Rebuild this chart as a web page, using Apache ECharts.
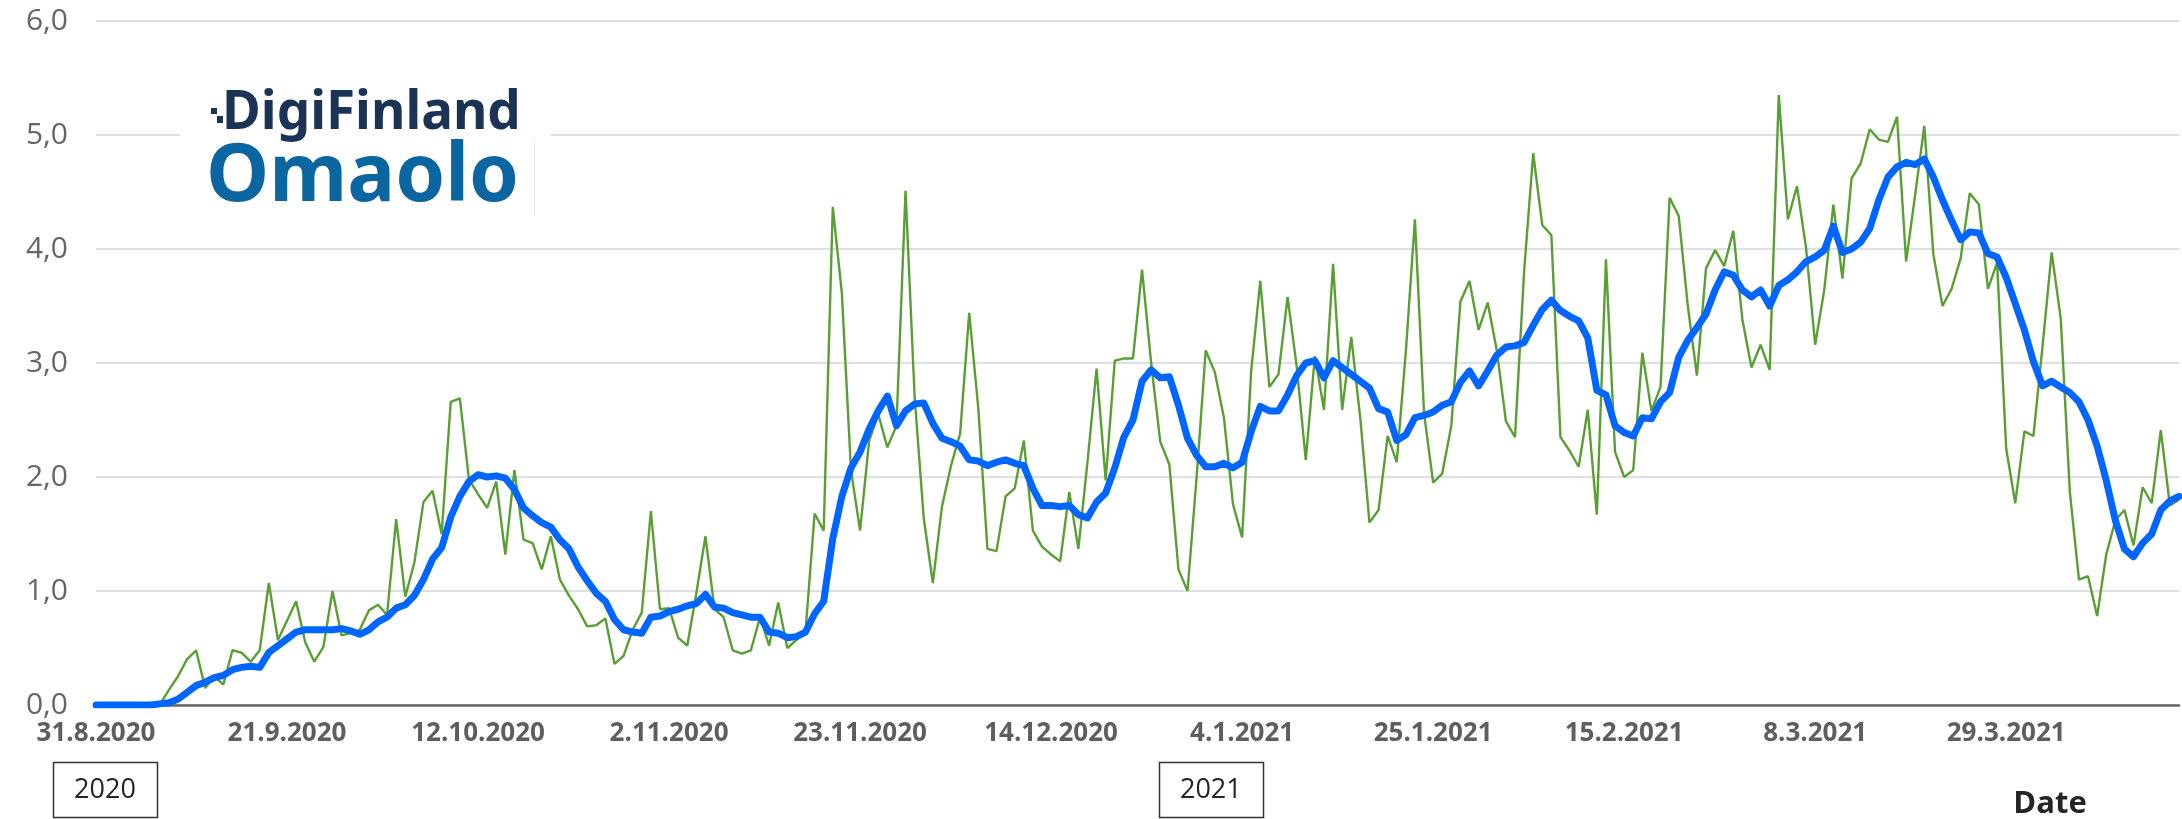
<!DOCTYPE html>
<html>
<head>
<meta charset="utf-8">
<script src="https://cdn.jsdelivr.net/npm/echarts@6/dist/echarts.min.js"></script>
<style>
  html, body { margin: 0; padding: 0; background: #ffffff; }
  #chart { width: 2182px; height: 819px; }
</style>
</head>
<body>
<div id="chart"></div>
<script>
// ---- data ----
const startDate = [2020, 8, 31];           // first day on the axis (y, m, d)
const dailyValues = [
  0, 0, 0, 0, 0, 0, 0, 0, 0.13, 0.25,
  0.40, 0.48, 0.15, 0.25, 0.18, 0.48, 0.46, 0.38, 0.48, 1.07,
  0.57, 0.74, 0.91, 0.55, 0.38, 0.51, 1.00, 0.61, 0.63, 0.66,
  0.83, 0.88, 0.79, 1.63, 0.95, 1.25, 1.78, 1.88, 1.50, 2.66,
  2.69, 1.98, 1.85, 1.73, 1.96, 1.32, 2.06, 1.45, 1.42, 1.19,
  1.48, 1.10, 0.96, 0.84, 0.69, 0.70, 0.76, 0.36, 0.43, 0.66,
  0.81, 1.70, 0.84, 0.85, 0.59, 0.52, 0.98, 1.48, 0.84, 0.77,
  0.48, 0.45, 0.48, 0.77, 0.52, 0.90, 0.50, 0.57, 0.64, 1.68,
  1.53, 4.37, 3.61, 2.06, 1.53, 2.32, 2.55, 2.26, 2.45, 4.51,
  2.70, 1.64, 1.07, 1.74, 2.10, 2.38, 3.44, 2.60, 1.37, 1.35,
  1.83, 1.90, 2.32, 1.53, 1.39, 1.32, 1.26, 1.87, 1.37, 2.13,
  2.95, 1.97, 3.02, 3.04, 3.04, 3.82, 3.00, 2.31, 2.11, 1.19,
  1.00, 2.00, 3.11, 2.92, 2.52, 1.76, 1.47, 2.93, 3.72, 2.79,
  2.90, 3.58, 2.97, 2.15, 3.06, 2.59, 3.87, 2.59, 3.23, 2.51,
  1.60, 1.71, 2.36, 2.13, 3.10, 4.26, 2.56, 1.95, 2.03, 2.45,
  3.54, 3.72, 3.29, 3.53, 3.11, 2.49, 2.35, 3.80, 4.84, 4.21,
  4.12, 2.35, 2.23, 2.09, 2.59, 1.67, 3.91, 2.22, 2.00, 2.06,
  3.09, 2.58, 2.79, 4.45, 4.29, 3.50, 2.89, 3.83, 3.99, 3.85,
  4.16, 3.38, 2.96, 3.16, 2.94, 5.35, 4.26, 4.55, 4.01, 3.16,
  3.64, 4.39, 3.74, 4.62, 4.75, 5.05, 4.96, 4.94, 5.16, 3.89,
  4.48, 5.08, 3.95, 3.50, 3.65, 3.92, 4.49, 4.39, 3.65, 3.88,
  2.25, 1.77, 2.40, 2.36, 3.15, 3.97, 3.39, 1.87, 1.10, 1.13,
  0.78, 1.32, 1.62, 1.71, 1.40, 1.91, 1.77, 2.41, 1.75, 1.80
];
const movingAverage = [
  0, 0, 0, 0, 0, 0, 0, 0.01, 0.02, 0.05,
  0.11, 0.17, 0.20, 0.24, 0.26, 0.31, 0.33, 0.34, 0.33, 0.46,
  0.52, 0.58, 0.64, 0.66, 0.66, 0.66, 0.66, 0.67, 0.65, 0.62,
  0.66, 0.73, 0.77, 0.85, 0.88, 0.96, 1.10, 1.28, 1.38, 1.65,
  1.83, 1.96, 2.02, 2.00, 2.01, 1.99, 1.89, 1.73, 1.66, 1.60,
  1.56, 1.45, 1.37, 1.21, 1.09, 0.98, 0.91, 0.75, 0.66, 0.64,
  0.63, 0.77, 0.78, 0.82, 0.84, 0.87, 0.89, 0.97, 0.86, 0.85,
  0.81, 0.79, 0.77, 0.77, 0.64, 0.63, 0.59, 0.60, 0.64, 0.80,
  0.91, 1.46, 1.83, 2.08, 2.22, 2.42, 2.58, 2.71, 2.45, 2.58,
  2.64, 2.65, 2.47, 2.34, 2.31, 2.27, 2.15, 2.14, 2.10, 2.13,
  2.15, 2.12, 2.10, 1.90, 1.75, 1.75, 1.74, 1.75, 1.67, 1.64,
  1.78, 1.86, 2.08, 2.35, 2.50, 2.84, 2.94, 2.87, 2.88, 2.63,
  2.34, 2.19, 2.09, 2.09, 2.12, 2.08, 2.13, 2.40, 2.62, 2.58,
  2.58, 2.72, 2.89, 3.00, 3.02, 2.87, 3.02, 2.96, 2.90, 2.84,
  2.78, 2.60, 2.57, 2.32, 2.37, 2.52, 2.54, 2.57, 2.63, 2.66,
  2.83, 2.93, 2.80, 2.93, 3.07, 3.14, 3.15, 3.18, 3.33, 3.47,
  3.55, 3.46, 3.41, 3.37, 3.22, 2.76, 2.72, 2.45, 2.39, 2.36,
  2.52, 2.51, 2.66, 2.74, 3.05, 3.20, 3.31, 3.43, 3.64, 3.80,
  3.77, 3.64, 3.58, 3.64, 3.50, 3.68, 3.73, 3.80, 3.89, 3.93,
  3.99, 4.20, 3.97, 4.00, 4.06, 4.18, 4.43, 4.63, 4.72, 4.76,
  4.74, 4.79, 4.63, 4.43, 4.25, 4.08, 4.15, 4.14, 3.96, 3.93,
  3.75, 3.52, 3.29, 3.01, 2.80, 2.84, 2.79, 2.74, 2.66, 2.50,
  2.27, 1.97, 1.62, 1.37, 1.30, 1.42, 1.50, 1.71, 1.79, 1.83
];
const yTickLabels = ['0,0', '1,0', '2,0', '3,0', '4,0', '5,0', '6,0'];
const yearLabels = ['2020', '2021'];
const brandTop = 'DigiFinland';
const brandBottom = 'Omaolo';
const axisTitle = 'Date';

// daily date categories (d.m.yyyy)
const categories = [];
for (let i = 0; i < dailyValues.length; i++) {
  const d = new Date(startDate[0], startDate[1] - 1, startDate[2] + i);
  categories.push(d.getDate() + '.' + (d.getMonth() + 1) + '.' + d.getFullYear());
}

// ---- chart ----
const chart = echarts.init(document.getElementById('chart'), null, { renderer: 'canvas' });
const option = {
  animation: false,
  backgroundColor: '#ffffff',
  grid: { left: 96, right: 3, top: 21, bottom: 114, containLabel: false },
  xAxis: {
    type: 'category',
    data: categories,
    boundaryGap: false,
    axisLine: { show: true, lineStyle: { color: '#666666', width: 2.5 } },
    axisTick: { show: false },
    axisLabel: {
      interval: (index) => index % 21 === 0,
      hideOverlap: false,
      color: '#605e5c', fontFamily: 'Open Sans', fontWeight: 'bold', fontSize: 26, margin: 16
    },
    splitLine: { show: false }
  },
  yAxis: {
    type: 'value', min: 0, max: 6, interval: 1,
    axisLine: { show: false },
    axisTick: { show: false },
    axisLabel: {
      color: '#666666', fontFamily: 'Open Sans', fontSize: 30, margin: 28,
      formatter: (v) => yTickLabels[Math.round(v)]
    },
    splitLine: { show: true, lineStyle: { color: '#dcdfe4', width: 2 } }
  },
  series: [
    {
      name: 'daily', type: 'line', data: dailyValues, symbol: 'none', z: 2,
      lineStyle: { color: '#5a9f33', width: 2.4 }
    },
    {
      name: 'average', type: 'line', data: movingAverage, symbol: 'none', z: 3,
      lineStyle: { color: '#0066ff', width: 7, join: 'round', cap: 'round' }
    }
  ]
};
chart.setOption(option);

// ---- decorations: year boxes, axis title, brand logo ----
const yearStartIdx = yearLabels.map(y => categories.findIndex(c => c.endsWith('.' + y)));
const yearBoxOffset = [9, -4];
const graphics = [];
yearStartIdx.forEach((idx, i) => {
  const px = chart.convertToPixel({ xAxisIndex: 0 }, idx) + yearBoxOffset[i];
  graphics.push({
    type: 'rect', z: 20,
    shape: { x: Math.round(px - 52) + 0.5, y: 762.5, width: 104, height: 55 },
    style: { fill: 'none', stroke: '#333333', lineWidth: 1.5 }
  });
  graphics.push({
    type: 'text', z: 21, x: px, y: 790,
    style: { text: yearLabels[i], fill: '#252423', font: '27px "Open Sans"', align: 'center', verticalAlign: 'middle' }
  });
});
graphics.push({
  type: 'text', z: 21, x: 2050, y: 804,
  style: { text: axisTitle, fill: '#252423', font: 'bold 31px "Open Sans"', align: 'center', verticalAlign: 'middle' }
});
// logo panel
graphics.push({ type: 'rect', z: 50, shape: { x: 180, y: 57, width: 371, height: 160 }, style: { fill: '#ffffff' } });
graphics.push({ type: 'line', z: 51, shape: { x1: 534.5, y1: 141, x2: 534.5, y2: 216 }, style: { stroke: '#e8e8e8', lineWidth: 1 } });
graphics.push({ type: 'rect', z: 52, shape: { x: 211, y: 108, width: 6, height: 6 }, style: { fill: '#1b3354' } });
graphics.push({ type: 'rect', z: 52, shape: { x: 217, y: 116, width: 6, height: 7 }, style: { fill: '#1b3354' } });
graphics.push({
  type: 'text', z: 52, x: 222, y: 114,
  style: { text: brandTop, fill: '#1b3354', font: 'bold 53px "Noto Sans"', align: 'left', verticalAlign: 'middle' }
});
graphics.push({
  type: 'text', z: 52, x: 206, y: 178,
  style: { text: brandBottom, fill: '#0b65a1', font: 'bold 80px "Noto Sans"', align: 'left', verticalAlign: 'middle' }
});
chart.setOption({ graphic: graphics });
</script>
</body>
</html>
